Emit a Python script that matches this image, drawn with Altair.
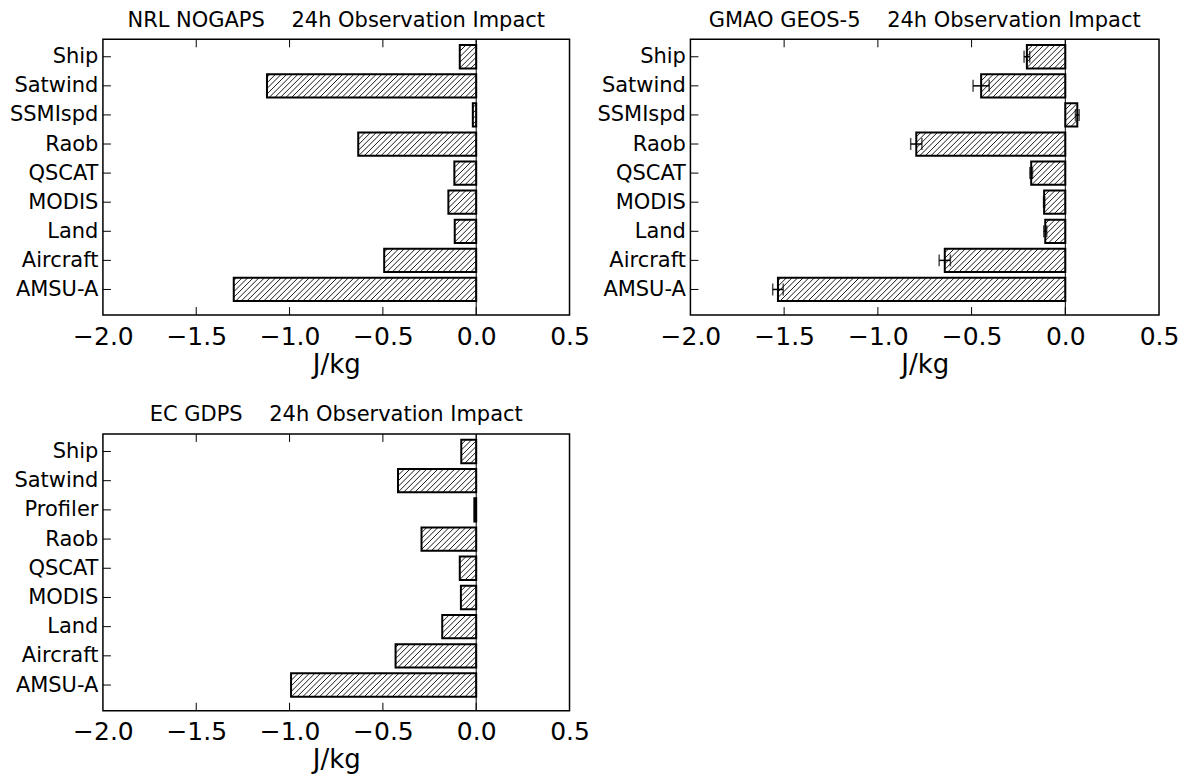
import math
import altair as alt
import pandas as pd

# ---------------- data ----------------
categories_nrl = ["AMSU-A", "Aircraft", "Land", "MODIS", "QSCAT", "Raob", "SSMIspd", "Satwind", "Ship"]
values_nrl = [-1.299, -0.493, -0.115, -0.149, -0.117, -0.632, -0.018, -1.121, -0.088]

categories_gmao = ["AMSU-A", "Aircraft", "Land", "MODIS", "QSCAT", "Raob", "SSMIspd", "Satwind", "Ship"]
values_gmao = [-1.533, -0.643, -0.107, -0.113, -0.182, -0.795, 0.064, -0.449, -0.205]
errors_gmao = [0.028, 0.030, 0.008, 0.003, 0.007, 0.030, 0.010, 0.043, 0.015]

categories_ec = ["AMSU-A", "Aircraft", "Land", "MODIS", "QSCAT", "Raob", "Profiler", "Satwind", "Ship"]
values_ec = [-0.992, -0.432, -0.182, -0.082, -0.088, -0.293, -0.010, -0.419, -0.080]

x_ticks = [-2.0, -1.5, -1.0, -0.5, 0.0, 0.5]
GAP = "\u00a0" * 4
titles = [f"NRL NOGAPS{GAP}24h Observation Impact",
          f"GMAO GEOS-5{GAP}24h Observation Impact",
          f"EC GDPS{GAP}24h Observation Impact"]
x_title = "J/kg"

# ---------------- styling ----------------
FONT = "DejaVu Sans"
X_MIN, X_MAX = -2.0, 0.5
Y_DOM = [-0.88, 8.6]
BAR_H = 0.8
HATCH_PX = 5.6
HATCH_W = 0.9
TICK_LEN = 8


def panel(cats, vals, title, width, height, errs=None):
    pos = list(range(len(cats)))
    kx = width / (X_MAX - X_MIN)
    ky = height / (Y_DOM[1] - Y_DOM[0])
    r = ky / kx
    half = BAR_H / 2

    bars = pd.DataFrame({"cat": cats, "pos": pos, "v": vals})
    bars["zero"] = 0.0
    bars["lo"] = bars["pos"] - half
    bars["hi"] = bars["pos"] + half

    # diagonal hatch segments clipped to each bar
    s = HATCH_PX / kx
    dx = BAR_H * r
    rows = []
    for p, v in zip(pos, vals):
        a, b = min(v, 0.0), max(v, 0.0)
        for k in range(math.floor((a - dx) / s), math.ceil(b / s) + 1):
            c = k * s
            xs_, xe_ = max(c, a), min(c + dx, b)
            if xe_ - xs_ <= 1e-9:
                continue
            rows.append({"hx": xs_, "hx2": xe_,
                         "hy": p - half + (xs_ - c) / r,
                         "hy2": p - half + (xe_ - c) / r})
    hatch = pd.DataFrame(rows)

    xs = alt.Scale(domain=[X_MIN, X_MAX], nice=False, zero=False)
    ys = alt.Scale(domain=Y_DOM, nice=False, zero=False)
    label_expr = "[" + ",".join(f"'{c}'" for c in cats) + "][datum.value]"
    x_axis = alt.Axis(values=x_ticks, format=".1f", title=x_title,
                      labelFontSize=25, labelPadding=9, labelFlush=False,
                      labelOverlap=False, titleFontSize=26, titlePadding=2)
    y_axis = alt.Axis(values=pos, labelExpr=label_expr, title=None,
                      labelFontSize=21, labelPadding=5)

    outline = alt.Chart(bars).mark_rect(filled=False, color="black", strokeWidth=2).encode(
        x=alt.X("v:Q", scale=xs, axis=x_axis), x2="zero:Q",
        y=alt.Y("lo:Q", scale=ys, axis=y_axis), y2="hi:Q")

    hatch_layer = alt.Chart(hatch).mark_rule(color="black", strokeWidth=HATCH_W).encode(
        x=alt.X("hx:Q", scale=xs, axis=x_axis), x2="hx2:Q",
        y=alt.Y("hy:Q", scale=ys, axis=y_axis), y2="hy2:Q")

    zero = alt.Chart(pd.DataFrame({"z": [0.0]})).mark_rule(color="black", strokeWidth=1).encode(
        x=alt.X("z:Q", scale=xs, axis=x_axis))

    tdf = pd.DataFrame({"t": x_ticks[1:-1]})
    bottom_ticks = alt.Chart(tdf).mark_rule(color="black", strokeWidth=1).encode(
        x=alt.X("t:Q", scale=xs, axis=x_axis), y=alt.value(height), y2=alt.value(height - TICK_LEN))
    top_ticks = alt.Chart(tdf).mark_rule(color="black", strokeWidth=1).encode(
        x=alt.X("t:Q", scale=xs, axis=x_axis), y=alt.value(0), y2=alt.value(TICK_LEN))
    left_ticks = alt.Chart(pd.DataFrame({"p": pos})).mark_rule(color="black", strokeWidth=1).encode(
        y=alt.Y("p:Q", scale=ys, axis=y_axis), x=alt.value(0), x2=alt.value(TICK_LEN))

    layers = [outline, hatch_layer, zero]
    if errs is not None:
        edf = pd.DataFrame({"pos": pos,
                            "elo": [v - e for v, e in zip(vals, errs)],
                            "ehi": [v + e for v, e in zip(vals, errs)]})
        cap_df = pd.DataFrame({"pos": pos + pos, "ex": list(edf["elo"]) + list(edf["ehi"])})
        err_rule = alt.Chart(edf).mark_rule(color="black", strokeWidth=1.5).encode(
            x=alt.X("elo:Q", scale=xs, axis=x_axis), x2="ehi:Q",
            y=alt.Y("pos:Q", scale=ys, axis=y_axis))
        caps = alt.Chart(cap_df).mark_tick(color="black", orient="vertical", size=12, thickness=1.5).encode(
            x=alt.X("ex:Q", scale=xs, axis=x_axis), y=alt.Y("pos:Q", scale=ys, axis=y_axis))
        layers += [err_rule, caps]
    layers += [bottom_ticks, top_ticks, left_ticks]

    return alt.layer(*layers).properties(
        width=width, height=height,
        title=alt.TitleParams(text=title, fontSize=21, font=FONT, fontWeight="normal",
                              color="black", anchor="middle", offset=8))


p1 = panel(categories_nrl, values_nrl, titles[0], 467, 276)
p2 = panel(categories_gmao, values_gmao, titles[1], 469, 276, errs=errors_gmao)
p3 = panel(categories_ec, values_ec, titles[2], 467, 277)

chart = alt.concat(
    p1, p2, p3, columns=2, bounds="flush",
    spacing={"row": 119, "column": 121},
).properties(
    padding={"left": 0, "top": 0, "right": 5, "bottom": 0},
    background="white",
).configure_view(
    stroke="black", strokeWidth=1.5
).configure_axis(
    grid=False, ticks=False, tickSize=0, domain=False,
    labelFont=FONT, titleFont=FONT, labelColor="black", titleColor="black",
    titleFontWeight="normal"
)

chart.save("out.html", embed_options={"renderer": "svg", "actions": False})
